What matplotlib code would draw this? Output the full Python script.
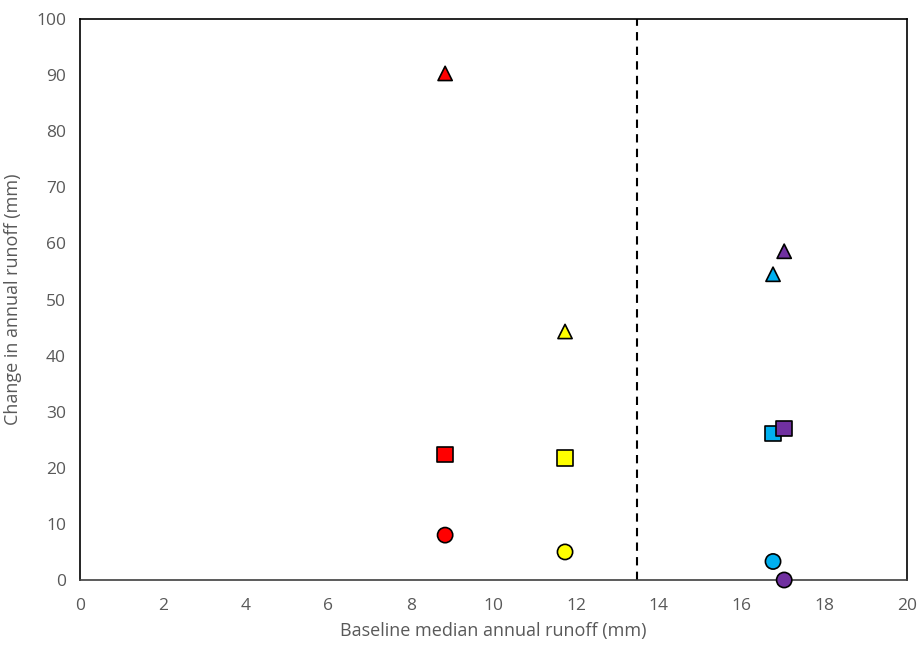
import matplotlib
matplotlib.use('Agg')
import matplotlib.pyplot as plt

plt.rcParams['font.family'] = ['Open Sans', 'DejaVu Sans']

# data
baseline = [8.83, 11.73, 16.76, 17.03]
colors = ['#ff0000', '#ffff00', '#00b0f0', '#7030a0']
tri_vals = [90.3, 44.3, 54.5, 58.6]
sq_vals = [22.4, 21.7, 26.1, 27.0]
circ_vals = [8.0, 5.0, 3.3, 0.0]
threshold = 13.47

fig = plt.figure(figsize=(9.19, 6.46), dpi=100)
ax = fig.add_axes([80 / 919, 1 - 580 / 646, 827 / 919, 561 / 646])

for vals, marker, size in [(circ_vals, 'o', 120), (sq_vals, 's', 125), (tri_vals, '^', 105)]:
    ax.scatter(baseline, vals, c=colors, marker=marker, s=size,
               edgecolors='black', linewidths=1.2, zorder=3, clip_on=False)

ax.axvline(threshold, color='black', linestyle='--', linewidth=1.5, dashes=(4, 3))

ax.set_xlim(0, 20)
ax.set_ylim(0, 100)
ax.set_xticks(range(0, 21, 2))
ax.set_yticks(range(0, 101, 10))
ax.tick_params(length=0, labelsize=12.5, colors='#595959')
ax.tick_params(axis='x', pad=13)
ax.tick_params(axis='y', pad=10)
for s in ax.spines.values():
    s.set_color('black')
    s.set_linewidth(1.2)
ax.spines['bottom'].set_color('#404040')

ax.set_xlabel('Baseline median annual runoff (mm)', fontsize=13, color='#595959', labelpad=6)
ax.set_ylabel('Change in annual runoff (mm)', fontsize=13, color='#595959', labelpad=10)

fig.savefig('out.png', dpi=100)
